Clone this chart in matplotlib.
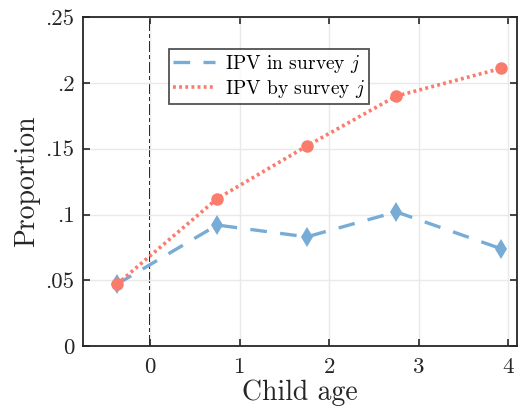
import matplotlib
matplotlib.use('Agg')
import matplotlib.pyplot as plt

# values
ages_in = [-0.37, 0.75, 1.75, 2.75, 3.92]
ipv_in = [0.047, 0.092, 0.083, 0.102, 0.074]
ages_by = [-0.37, 0.75, 1.75, 2.75, 3.92]
ipv_by = [0.047, 0.112, 0.152, 0.190, 0.211]

xticks = [0, 1, 2, 3, 4]
yticks = [0, 0.05, 0.1, 0.15, 0.2, 0.25]
ytick_labels = ['0', '.05', '.1', '.15', '.2', '.25']

plt.rcParams['font.family'] = 'serif'
plt.rcParams['font.serif'] = ['cmr10']
plt.rcParams['mathtext.fontset'] = 'cm'
plt.rcParams['axes.formatter.use_mathtext'] = True

blue = '#76acd6'
red = '#fb7b6c'
dark = '#262626'

fig = plt.figure(figsize=(5.24, 4.17), dpi=100)
ax = fig.add_axes([0.158, 0.170, 0.829, 0.789])

ax.grid(True, color='#e9e9e9', lw=1.0, zorder=0)
ax.axvline(0, color='black', lw=1.5, ls=(0, (5, 1.5, 1.5, 1.5)),
           antialiased=False, zorder=1)

ax.plot(ages_in, ipv_in, color=blue, lw=2.4, ls=(0, (5, 4)),
        marker='d', ms=10, mew=0, label='IPV in survey $j$', zorder=3)
ax.plot(ages_by, ipv_by, color=red, lw=2.6, ls=(0, (0.8, 0.9)),
        marker='o', ms=9, mew=0, label='IPV by survey $j$', zorder=4)

ax.set_xlim(-0.75, 4.1)
ax.set_ylim(0, 0.25)
ax.set_xticks(xticks)
ax.set_xticklabels([str(t) for t in xticks])
ax.set_yticks(yticks)
ax.set_yticklabels(ytick_labels)
ax.tick_params(labelsize=16.5, direction='in', length=5, width=1.2,
               top=True, right=True, color=dark, labelcolor=dark)
ax.tick_params(axis='x', pad=8)
ax.tick_params(axis='y', pad=6)
for s in ax.spines.values():
    s.set_linewidth(1.3)
    s.set_color(dark)

ax.set_xlabel('Child age', fontsize=20, color=dark, labelpad=2)
ax.set_ylabel('Proportion', fontsize=20, color=dark, labelpad=4)

leg = ax.legend(loc='upper left', bbox_to_anchor=(0.198, 0.903), fontsize=14,
                frameon=True, fancybox=False, edgecolor=dark,
                handlelength=2.2, borderpad=0.2, labelspacing=0.15,
                handletextpad=0.5, borderaxespad=0)
leg.get_frame().set_linewidth(1.3)
for h in leg.legend_handles:
    h.set_marker('')

fig.savefig('out.png', dpi=100)
